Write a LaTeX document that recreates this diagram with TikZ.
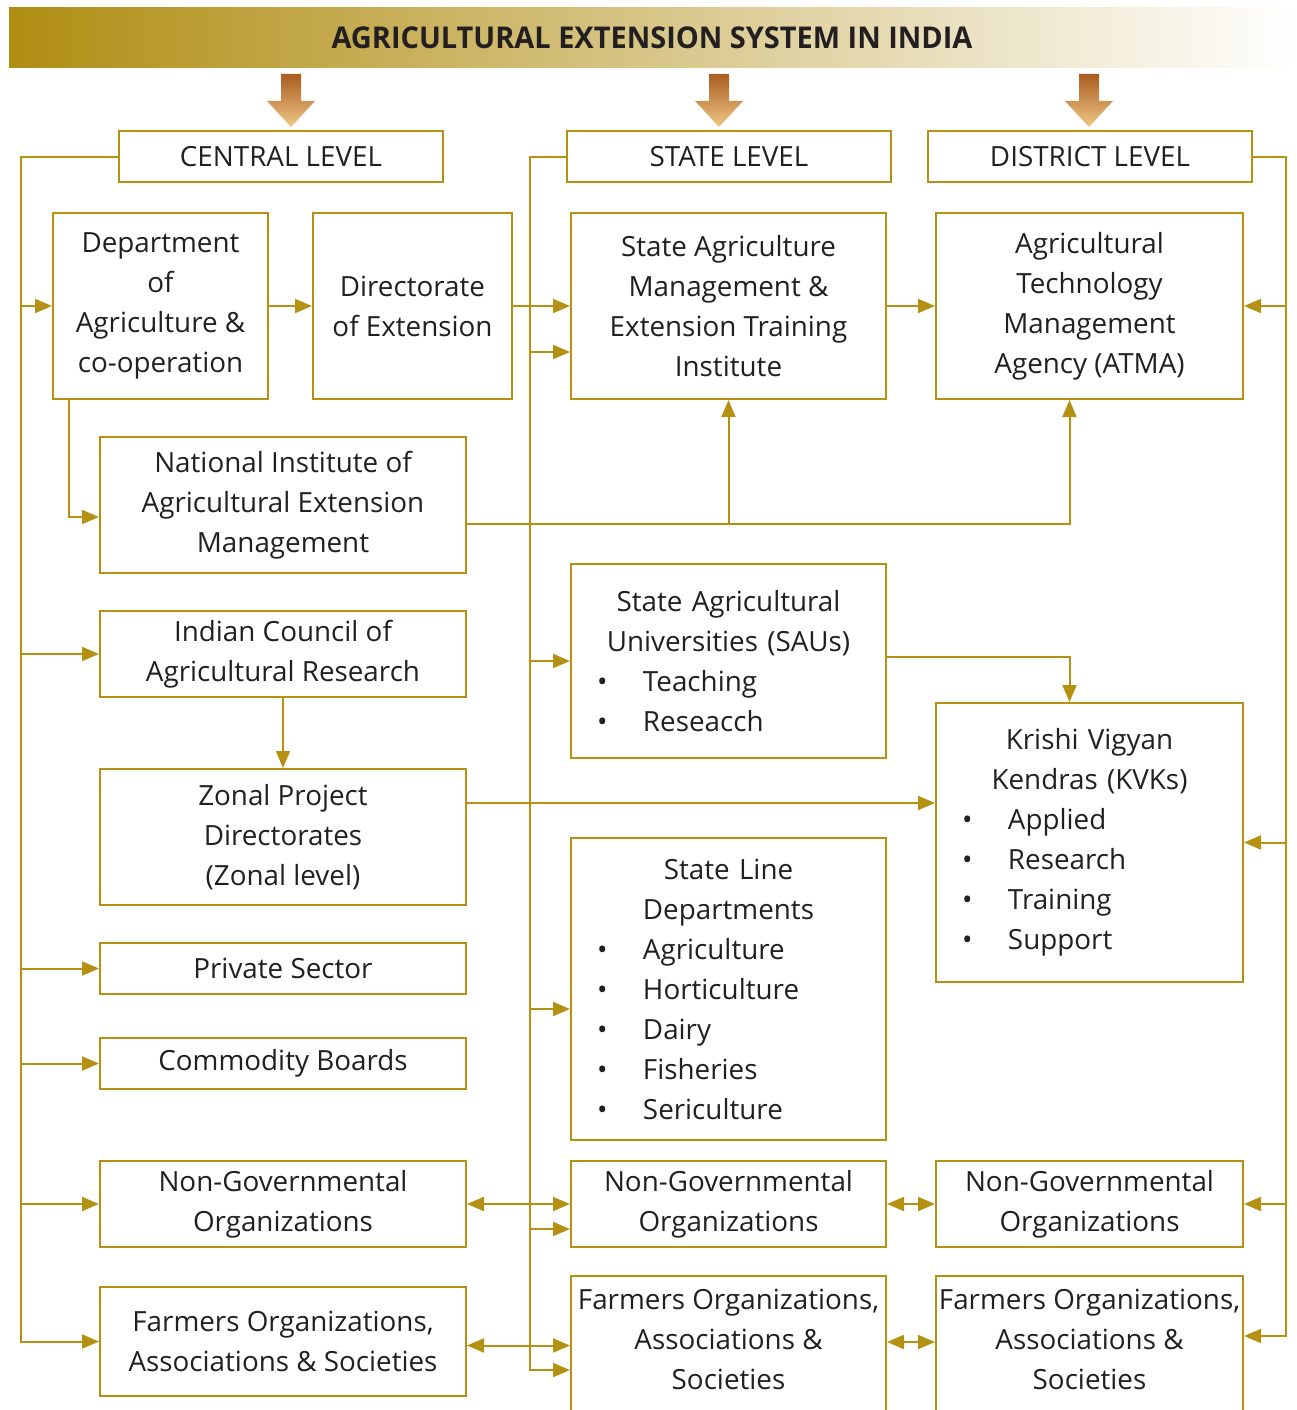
\documentclass[tikz,border=0pt]{standalone}
\usepackage{fontspec}
\setmainfont{Open Sans}
\usetikzlibrary{arrows.meta,calc}

\definecolor{gold}{RGB}{180,145,18}
\definecolor{titlegold}{RGB}{176,141,18}
\definecolor{ink}{RGB}{35,31,32}
\definecolor{arrtop}{RGB}{168,92,32}
\definecolor{arrbot}{RGB}{240,200,135}

\tikzset{every picture/.style={line width=2pt}}
\tikzset{
  box/.style={draw=gold, line width=2pt, text=ink, align=center, inner sep=0pt,
    font=\fontsize{27.8}{40}\selectfont},
  link/.style={draw=gold, line width=2pt, -{Triangle[length=17pt,width=14pt]}},
  biarr/.style={draw=gold, line width=2pt,
    {Triangle[length=17pt,width=14pt]}-{Triangle[length=17pt,width=14pt]}},
}
\newcommand{\bitem}[1]{\makebox[\linewidth][l]{\hspace*{26pt}\makebox[46pt][l]{\textbullet}#1}}

\begin{document}
\begin{tikzpicture}[x=1pt,y=1pt,yscale=-1,xscale=1]
  \useasboundingbox (0,0) rectangle (1297,1410);

  % Title bar
  \shade[left color=titlegold, right color=white] (9,8) rectangle (1297,68);
  \node[text=ink, font=\fontsize{30}{32}\selectfont\bfseries] (title) at (652,38)
    {\scalebox{0.965}[1]{AGRICULTURAL EXTENSION SYSTEM IN INDIA}};

  % Down arrows
  \foreach \x in {291,719,1089}
    \shade[top color=arrtop, bottom color=arrbot]
      (\x-10,74) -- (\x+10,74) -- (\x+10,101) -- (\x+24,101) -- (\x,127)
      -- (\x-24,101) -- (\x-10,101) -- cycle;

  % Level boxes
  \node[box, minimum width=324pt, minimum height=51pt] (central) at (281,156.5) {CENTRAL LEVEL};
  \node[box, minimum width=324pt, minimum height=51pt] (state) at (729,156.5) {STATE LEVEL};
  \node[box, minimum width=324pt, minimum height=51pt] (district) at (1090,156.5) {DISTRICT LEVEL};

  % Central column
  \node[box, minimum width=215pt, minimum height=186pt] (dept) at (160.5,306)
    {Department\\of\\Agriculture \&\\co-operation};
  \node[box, minimum width=199pt, minimum height=186pt] (dir) at (412.5,306)
    {Directorate\\of Extension};
  \node[box, minimum width=366pt, minimum height=136pt] (niaem) at (283,505)
    {National Institute of\\Agricultural Extension\\Management};
  \node[box, minimum width=366pt, minimum height=86pt] (icar) at (283,654)
    {Indian Council of\\Agricultural Research};
  \node[box, minimum width=366pt, minimum height=136pt] (zonal) at (283,837)
    {Zonal Project\\Directorates\\(Zonal level)};
  \node[box, minimum width=366pt, minimum height=51pt] (private) at (283,968.5) {Private Sector};
  \node[box, minimum width=366pt, minimum height=51pt] (commodity) at (283,1063.5) {Commodity Boards};
  \node[box, minimum width=366pt, minimum height=86pt] (ngo1) at (283,1204)
    {Non-Governmental\\Organizations};
  \node[box, minimum width=366pt, minimum height=109pt] (farm1) at (283,1341.5)
    {Farmers Organizations,\\Associations \& Societies};

  % State column
  \node[box, minimum width=315pt, minimum height=186pt] (samet) at (728.5,306)
    {State Agriculture\\Management \&\\Extension Training\\Institute};
  \node[box, text width=315pt, minimum height=194pt] (sau) at (728.5,661)
    {State Agricultural\\Universities (SAUs)\\\bitem{Teaching}\\\bitem{Reseacch}};
  \node[box, text width=315pt, minimum height=302pt] (sld) at (728.5,989)
    {State Line\\Departments\\\bitem{Agriculture}\\\bitem{Horticulture}\\\bitem{Dairy}\\\bitem{Fisheries}\\\bitem{Sericulture}};
  \node[box, minimum width=315pt, minimum height=86pt] (ngo2) at (728.5,1204)
    {Non-Governmental\\Organizations};
  \node[box, minimum width=315pt, minimum height=148pt, text depth=21pt] (farm2) at (728.5,1350)
    {Farmers Organizations,\\Associations \&\\Societies};

  % District column
  \node[box, minimum width=307pt, minimum height=186pt] (atma) at (1089.5,306)
    {Agricultural\\Technology\\Management\\Agency (ATMA)};
  \node[box, text width=307pt, minimum height=279pt] (kvk) at (1089.5,842.5)
    {Krishi Vigyan\\Kendras (KVKs)\\\bitem{Applied}\\\bitem{Research}\\\bitem{Training}\\\bitem{Support}};
  \node[box, minimum width=307pt, minimum height=86pt] (ngo3) at (1089.5,1204)
    {Non-Governmental\\Organizations};
  \node[box, minimum width=307pt, minimum height=148pt, text depth=21pt] (farm3) at (1089.5,1350)
    {Farmers Organizations,\\Associations \&\\Societies};

  % Buses
  \coordinate (lbus) at (21,0);
  \coordinate (sbus) at (530,0);
  \coordinate (dbus) at (1286,0);

  % Central bus
  \draw[link] (central.west) -| (lbus |- farm1.west) -- (farm1.west);
  \foreach \n in {dept,icar,private,commodity,ngo1}
    \draw[link] (lbus |- \n.west) -- (\n.west);

  % State bus
  \coordinate (f2in) at ($(farm2.west)+(0,20)$);
  \coordinate (s1in) at ($(samet.west)+(0,46)$);
  \coordinate (s3in) at ($(sld.west)+(0,20)$);
  \coordinate (s4in) at ($(ngo2.west)+(0,25)$);
  \draw[link] (state.west) -| (sbus |- f2in) -- (f2in);
  \foreach \c in {s1in,sau.west,s3in,s4in}
    \draw[link] (sbus |- \c) -- (\c);

  % District bus
  \coordinate (f3in) at ($(farm3.east)+(0,-14)$);
  \draw[link] (district.east) -| (dbus |- f3in) -- (f3in);
  \foreach \n in {atma,kvk,ngo3}
    \draw[link] (dbus |- \n.east) -- (\n.east);

  % Links between boxes
  \draw[link] (dept.east) -- (dir.west);
  \draw[link] (dir.east) -- (samet.west);
  \draw[link] (samet.east) -- (atma.west);
  \draw[link] ($(dept.south west)+(17,0)$) |- ($(niaem.west)+(0,12)$);
  \draw[link] (icar.south) -- (zonal.north);

  \coordinate (nj) at ($(niaem.east)+(0,19)$);
  \draw[link] (nj) -| ($(atma.south)+(-20,0)$);
  \draw[link] (nj -| samet.south) -- (samet.south);

  \draw[link] ($(sau.east)+(0,-4)$) -| ($(kvk.north)+(-20,0)$);

  \coordinate (zj) at ($(zonal.east)+(0,-34)$);
  \draw[link] (zj) -- (zj -| kvk.west);

  % Two-way links
  \draw[biarr] (ngo1.east) -- (ngo2.west);
  \draw[biarr] (ngo2.east) -- (ngo3.west);
  \draw[biarr] ($(farm1.east)+(0,4)$) -- ($(farm1.east -| farm2.west)+(0,4)$);
  \draw[biarr] ($(farm2.east)+(0,-8)$) -- ($(farm3.west)+(0,-8)$);
\end{tikzpicture}
\end{document}
